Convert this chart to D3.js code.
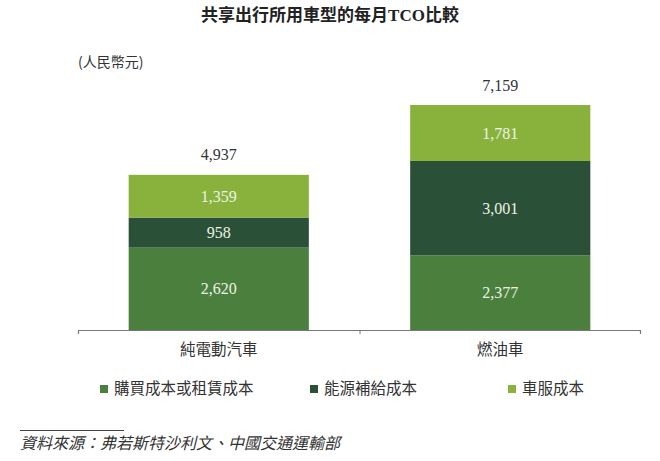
<!DOCTYPE html>
<html>
<head>
<meta charset="utf-8">
<script src="https://cdn.jsdelivr.net/npm/d3@7"></script>
<style>
  body { margin: 0; background: #fff; }
  text { font-family: "Liberation Serif", "Noto Sans CJK TC", serif; }
  .cjk { font-family: "Noto Sans CJK TC", sans-serif; }
</style>
</head>
<body>
<script>
// chart data
var categories = ["純電動汽車", "燃油車"];
var seriesNames = ["購買成本或租賃成本", "能源補給成本", "車服成本"];
var purchase = [2620, 2377];
var energy = [958, 3001];
var service = [1359, 1781];
var totals = [4937, 7159];
var colors = ["#4a7f3e", "#2b5038", "#88b23c"];

var w = 660;
var h = 461;

var svg = d3.select("body")
  .append("svg")
  .attr("width", w)
  .attr("height", h);

// title
svg.append("text")
  .attr("x", 330)
  .attr("y", 21)
  .attr("text-anchor", "middle")
  .style("font-size", "17px")
  .style("font-weight", "bold")
  .attr("fill", "#222")
  .text("共享出行所用車型的每月TCO比較");

// unit
svg.append("text")
  .attr("class", "cjk")
  .attr("x", 78)
  .attr("y", 67)
  .style("font-size", "14px")
  .attr("fill", "#333")
  .text("(人民幣元)");

// stack the series
var rows = categories.map(function(c, i) {
  return { cat: c, a: purchase[i], b: energy[i], c: service[i] };
});
var stack = d3.stack().keys(["a", "b", "c"]);
var layers = stack(rows);

var x = d3.scaleBand()
  .domain(categories)
  .range([78, 641])
  .paddingInner(0)
  .paddingOuter(0);
var barW = x.bandwidth() * 0.64;

var y = d3.scaleLinear()
  .domain([0, 7159])
  .range([330, 105]);

// bars
var g = svg.selectAll("g.layer")
  .data(layers)
  .enter()
  .append("g")
  .attr("class", "layer")
  .attr("fill", function(d, i) { return colors[i]; });

g.selectAll("rect")
  .data(function(d) { return d; })
  .enter()
  .append("rect")
  .attr("x", function(d) { return x(d.data.cat) + (x.bandwidth() - barW) / 2; })
  .attr("y", function(d) { return y(d[1]); })
  .attr("width", barW)
  .attr("height", function(d) { return y(d[0]) - y(d[1]); });

// segment labels
var fmt = d3.format(",");
layers.forEach(function(layer) {
  svg.selectAll(null)
    .data(layer)
    .enter()
    .append("text")
    .attr("x", function(d) { return x(d.data.cat) + x.bandwidth() / 2; })
    .attr("y", function(d) { return (y(d[0]) + y(d[1])) / 2; })
    .attr("dy", "0.35em")
    .attr("text-anchor", "middle")
    .style("font-size", "16px")
    .attr("fill", "#eef3e6")
    .text(function(d) { return fmt(d[1] - d[0]); });
});

// totals above bars
svg.selectAll("text.total")
  .data(categories)
  .enter()
  .append("text")
  .attr("class", "total")
  .attr("x", function(d) { return x(d) + x.bandwidth() / 2; })
  .attr("y", function(d, i) { return y(totals[i]) - 20; })
  .attr("dy", "0.35em")
  .attr("text-anchor", "middle")
  .style("font-size", "16px")
  .attr("fill", "#333")
  .text(function(d, i) { return fmt(totals[i]); });

// x axis
var axis = svg.append("g")
  .attr("transform", "translate(0,330)")
  .call(d3.axisBottom(x).tickSize(0).tickFormat(""));
axis.select(".domain").remove();
axis.append("path")
  .attr("d", "M78.5,4V0.5H640.5V4")
  .attr("fill", "none")
  .attr("stroke", "#777")
  .attr("stroke-width", 1.2);
axis.append("line")
  .attr("x1", x(categories[1]) + 0.5)
  .attr("x2", x(categories[1]) + 0.5)
  .attr("y1", 0)
  .attr("y2", 4)
  .attr("stroke", "#777");

svg.selectAll("text.cat")
  .data(categories)
  .enter()
  .append("text")
  .attr("class", "cat cjk")
  .attr("x", function(d) { return x(d) + x.bandwidth() / 2; })
  .attr("y", 350)
  .attr("dy", "0.35em")
  .attr("text-anchor", "middle")
  .style("font-size", "15.5px")
  .attr("fill", "#333")
  .text(function(d) { return d; });

// legend
var legendX = [100, 310, 508];
seriesNames.forEach(function(name, i) {
  svg.append("rect")
    .attr("x", legendX[i])
    .attr("y", 385)
    .attr("width", 8)
    .attr("height", 8)
    .attr("fill", colors[i]);
  svg.append("text")
    .attr("class", "cjk")
    .attr("x", legendX[i] + 14)
    .attr("y", 389)
    .attr("dy", "0.35em")
    .style("font-size", "15.5px")
    .attr("fill", "#333")
    .text(name);
});

// source
svg.append("line")
  .attr("x1", 20)
  .attr("x2", 124)
  .attr("y1", 430.5)
  .attr("y2", 430.5)
  .attr("stroke", "#444")
  .attr("stroke-width", 1);
svg.append("text")
  .attr("class", "cjk")
  .attr("x", 20)
  .attr("y", 443)
  .attr("dy", "0.35em")
  .style("font-size", "16px")
  .style("font-style", "italic")
  .attr("fill", "#333")
  .text("資料來源：弗若斯特沙利文、中國交通運輸部");
</script>
</body>
</html>
